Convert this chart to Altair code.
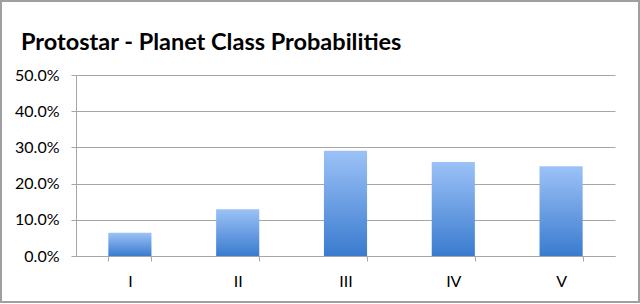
import altair as alt
import pandas as pd

title_text = "Protostar - Planet Class Probabilities"
categories = ["I", "II", "III", "IV", "V"]
probabilities = [0.064, 0.129, 0.291, 0.260, 0.248]

df = pd.DataFrame({"cls": categories, "p": probabilities})

grad = alt.Gradient(
    gradient="linear",
    stops=[alt.GradientStop(color="#3a7bcf", offset=0),
           alt.GradientStop(color="#9cc2f7", offset=1)],
    x1=0, x2=0, y1=1, y2=0,
)

bars = alt.Chart(df).mark_bar(color=grad).encode(
    x=alt.X("cls:N", sort=categories, title=None,
            scale=alt.Scale(paddingInner=0.6, paddingOuter=0.3),
            axis=alt.Axis(labelAngle=0, tickBand="extent", labelFontSize=16,
                          labelPadding=12, tickSize=5, domainColor="#a6a6a6",
                          tickColor="#a6a6a6", labelColor="#000000",
                          labelFont="Lato", grid=False)),
    y=alt.Y("p:Q", title=None,
            scale=alt.Scale(domain=[0, 0.5], nice=False),
            axis=alt.Axis(format=".1%", values=[0, 0.1, 0.2, 0.3, 0.4, 0.5],
                          labelFontSize=16, labelPadding=12, tickSize=5,
                          domainColor="#a6a6a6", tickColor="#a6a6a6",
                          gridColor="#a6a6a6", labelColor="#000000",
                          labelFont="Lato")),
)

frame = alt.Chart(df).mark_rect(fill=None, stroke="#a0a0a0", strokeWidth=2, clip=False).encode(
    x=alt.value(-75), x2=alt.value(563), y=alt.value(-74), y2=alt.value(227)
)

title = alt.Chart(pd.DataFrame({"t": [title_text]})).mark_text(
    align="left", baseline="alphabetic", font="Lato", fontSize=23.5,
    fontWeight="bold", color="#000000", clip=False
).encode(text="t:N", x=alt.value(-55), y=alt.value(-25))

chart = alt.layer(frame, bars, title).properties(
    width=539, height=181,
    padding={"left": 76, "top": 75, "right": 25, "bottom": 48},
    autosize=alt.AutoSizeParams(type="none"),
).configure_view(stroke=None)

chart.save("out.html", embed_options={"renderer": "svg", "actions": False})
